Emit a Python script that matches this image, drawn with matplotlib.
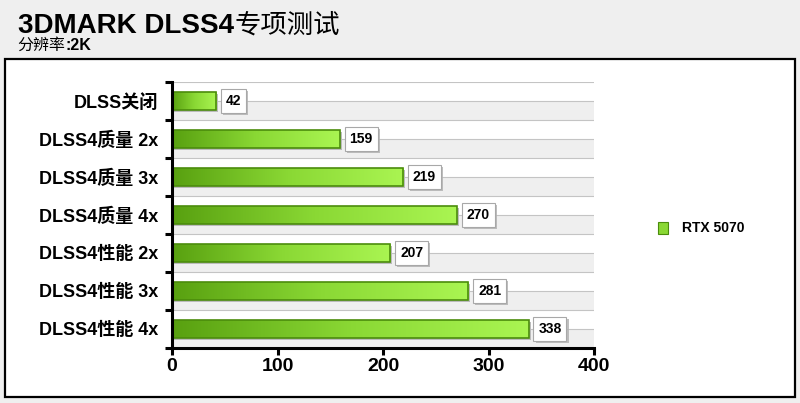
import numpy as np
import matplotlib.pyplot as plt
import matplotlib.transforms as mtransforms
import matplotlib.patheffects as pe
from matplotlib.patches import Rectangle
from matplotlib.colors import LinearSegmentedColormap

plt.rcParams['font.family'] = ['Liberation Sans', 'Noto Sans CJK SC', 'DejaVu Sans']

categories = ['DLSS关闭', 'DLSS4质量 2x', 'DLSS4质量 3x', 'DLSS4质量 4x',
              'DLSS4性能 2x', 'DLSS4性能 3x', 'DLSS4性能 4x']
values = [42, 159, 219, 270, 207, 281, 338]
series_name = 'RTX 5070'
x_ticks = [0, 100, 200, 300, 400]

fig = plt.figure(figsize=(8, 4.03), dpi=100)
fig.patch.set_facecolor('#efefef')

# white panel with black border
panel = Rectangle((0.006, 0.015), 0.988, 0.838, transform=fig.transFigure,
                  facecolor='white', edgecolor='black', linewidth=1.6, zorder=0)
fig.patches.append(panel)

# title: latin part bold, chinese part regular
t1 = fig.text(0.022, 0.918, '3DMARK DLSS4', fontsize=20, fontweight='bold',
              va='baseline', ha='left')
fig.canvas.draw()
bb = t1.get_window_extent()
fig.text((bb.x1 + 1) / fig.bbox.width, 0.918, '专项测试', fontsize=19,
         va='baseline', ha='left')

s1 = fig.text(0.022, 0.876, '分辨率', fontsize=11.5, va='baseline', ha='left')
fig.canvas.draw()
bb = s1.get_window_extent()
fig.text(bb.x1 / fig.bbox.width, 0.876, ':2K', fontsize=11.5, fontweight='bold',
         va='baseline', ha='left')

ax = fig.add_axes([0.215, 0.137, 0.5275, 0.66])
ax.set_zorder(5)
n = len(categories)
ax.set_facecolor('none')

# alternating bands and grid lines
for i in range(n):
    ax.axhspan(i, i + 0.5, color='#efefef', zorder=0, lw=0)
    ax.axhline(i, color='#c4c4c4', lw=0.8, zorder=1)
    ax.axhline(i - 0.5, color='#c4c4c4', lw=0.8, zorder=1)

cmap = LinearSegmentedColormap.from_list('grn', ['#58a010', '#8ad834', '#aaf552'])
grad = np.linspace(0, 1, 256).reshape(1, -1)
bar_h = 0.46
bars = ax.barh(range(n), values, height=bar_h, color='none',
               edgecolor='#4b8c0c', linewidth=1.2, zorder=4)
shadow_tr = ax.transData + mtransforms.ScaledTranslation(2 / 100, -2 / 100, fig.dpi_scale_trans)
for i, (b, v) in enumerate(zip(bars, values)):
    sh = Rectangle((0, i - bar_h / 2), v, bar_h, transform=shadow_tr,
                   facecolor='#bbbbbb', edgecolor='none', zorder=2)
    ax.add_patch(sh)
    im = ax.imshow(grad, extent=[0, v, i + bar_h / 2, i - bar_h / 2],
                   cmap=cmap, aspect='auto', zorder=3)
    im.set_clip_path(b)
    lab = ax.annotate(str(v), xy=(v, i), xytext=(7, 0), textcoords='offset points',
                      va='center', ha='left', fontsize=10, fontweight='bold', zorder=6,
                      bbox=dict(boxstyle='square,pad=0.35', fc='white', ec='#a8a8a8', lw=0.8))
    lab.get_bbox_patch().set_path_effects(
        [pe.SimplePatchShadow(offset=(1.5, -1.5), shadow_rgbFace='#b0b0b0', alpha=0.8),
         pe.Normal()])
ax.set_xlim(0, 400)
ax.set_ylim(n - 0.5, -0.5)

for s in ['top', 'right']:
    ax.spines[s].set_visible(False)
for s in ['left', 'bottom']:
    ax.spines[s].set_linewidth(2.2)
    ax.spines[s].set_zorder(7)

ax.set_xticks(x_ticks)
ax.set_xticklabels([str(t) for t in x_ticks], fontsize=14, fontweight='bold')
ax.tick_params(axis='x', length=5, width=2.2, pad=2)

ax.set_yticks(np.arange(-0.5, n, 1.0))
ax.set_yticklabels([])
ax.set_yticks(range(n), minor=True)
ax.set_yticklabels(categories, minor=True, fontsize=13, fontweight='bold')
ax.tick_params(axis='y', which='major', length=5, width=2.2)
ax.tick_params(axis='y', which='minor', length=0, pad=10)

# legend
leg = Rectangle((0.8225, 0.42), 0.012, 0.03, transform=fig.transFigure,
                facecolor='#8ad834', edgecolor='#4b8c0c', lw=0.8)
leg.set_path_effects([pe.SimplePatchShadow(offset=(1, -1), shadow_rgbFace='#b0b0b0'), pe.Normal()])
fig.patches.append(leg)
fig.text(0.853, 0.434, series_name, fontsize=10, fontweight='bold', va='center', ha='left')

fig.savefig('out.png', dpi=100)
